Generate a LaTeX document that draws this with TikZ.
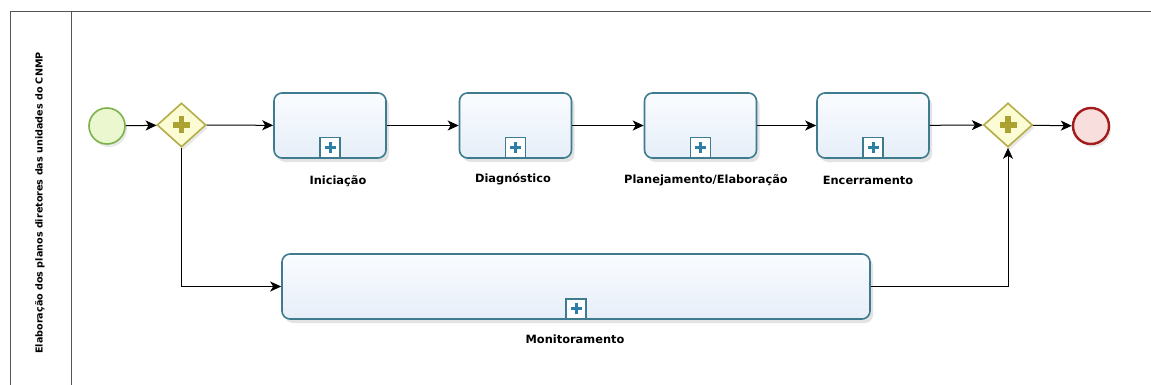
\documentclass[tikz,border=0pt]{standalone}
\usepackage{fontspec}
\setmainfont{DejaVu Sans}
\usetikzlibrary{arrows.meta,shadows,shapes.geometric}
\definecolor{taskline}{HTML}{3F7B8E}
\definecolor{tasktop}{HTML}{FAFCFF}
\definecolor{taskbot}{HTML}{E6EEF8}
\definecolor{gatefill}{HTML}{FBFBD4}
\definecolor{gateline}{HTML}{B5AE48}
\definecolor{gateplus}{HTML}{ABA232}
\definecolor{startfill}{HTML}{EBF7CF}
\definecolor{startline}{HTML}{7DB24A}
\definecolor{endfill}{HTML}{F9DEDE}
\definecolor{endline}{HTML}{A31B1B}
\definecolor{poolline}{HTML}{555555}
\definecolor{markplus}{HTML}{2E7FA6}
\tikzset{
  taskbox/.style={draw=taskline, line width=1.6pt, rounded corners=8pt, top color=tasktop, bottom color=taskbot,
    minimum width=112pt, minimum height=65pt, inner sep=0pt,
    drop shadow={shadow xshift=3pt, shadow yshift=-4pt, opacity=0.22, fill=gray}},
  markbox/.style={draw=taskline, line width=1.4pt, fill=white, minimum width=20pt, minimum height=20pt, inner sep=0pt},
  gate/.style={diamond, draw=gateline, line width=1.6pt, fill=gatefill, minimum width=49pt, minimum height=44pt, inner sep=0pt,
    drop shadow={shadow xshift=2pt, shadow yshift=-3pt, opacity=0.18, fill=gray}},
  startev/.style={circle, draw=startline, line width=1.6pt, fill=startfill, minimum size=36pt, inner sep=0pt,
    drop shadow={shadow xshift=2pt, shadow yshift=-3pt, opacity=0.18, fill=gray}},
  endev/.style={circle, draw=endline, line width=2.4pt, fill=endfill, minimum size=36pt, inner sep=0pt,
    drop shadow={shadow xshift=2pt, shadow yshift=-3pt, opacity=0.18, fill=gray}},
  flow/.style={draw=black, line width=1pt, -{Stealth[length=11pt,width=10pt,inset=3pt]}},
  lbl/.style={font=\bfseries\fontsize{11.4}{13}\selectfont, text=black, inner sep=0pt}
}
\newcommand{\gateplus}[1]{%
  \draw[gateplus, line width=5.5pt] ([xshift=-8.5pt]#1.center) -- ([xshift=8.5pt]#1.center);
  \draw[gateplus, line width=5.5pt] ([yshift=-8.5pt]#1.center) -- ([yshift=8.5pt]#1.center);}
\newcommand{\markplus}[1]{%
  \draw[markplus, line width=3pt] ([xshift=-5.5pt]#1.center) -- ([xshift=5.5pt]#1.center);
  \draw[markplus, line width=3pt] ([yshift=-5.5pt]#1.center) -- ([yshift=5.5pt]#1.center);}
\begin{document}
\begin{tikzpicture}[x=1pt,y=-1pt]
\useasboundingbox (0,0) rectangle (1151,385);
\fill[white] (0,0) rectangle (1151,385);
\begin{scope}
\clip (0,0) rectangle (1151,385);
\draw[poolline, line width=1pt] (10,400) -- (10,12) -- (1170,12);
\draw[poolline, line width=1pt] (71,12) -- (71,400);
\end{scope}
\node[rotate=90, font=\bfseries\fontsize{9.6}{11}\selectfont, inner sep=0pt] (lane) at (40,203) {Elaboração dos planos diretores das unidades do CNMP};

\node[startev] (s) at (107,126) {};
\node[gate] (g1) at (181.5,125) {};
\gateplus{g1}
\node[taskbox] (t1) at (330,125.5) {};
\node[taskbox] (t2) at (515.5,125.5) {};
\node[taskbox] (t3) at (700.5,125.5) {};
\node[taskbox] (t4) at (873,125.5) {};
\node[gate] (g2) at (1008,125) {};
\gateplus{g2}
\node[endev] (e) at (1091,126) {};
\node[taskbox, minimum width=588pt] (mon) at (576,286.5) {};

\foreach \t in {t1,t2,t3,t4,mon}{
  \node[markbox] (m\t) at ([yshift=11pt]\t.south) {};
  \markplus{m\t}
}

\node[lbl] (l1) at (338,181) {Iniciação};
\node[lbl] (l2) at (513,179) {Diagnóstico};
\node[lbl] (l3) at (706,180) {Planejamento/Elaboração};
\node[lbl] (l4) at (868,180) {Encerramento};
\node[lbl] (l5) at (575,339) {Monitoramento};

\draw[flow] (s) -- (g1);
\draw[flow] (g1) -- (t1);
\draw[flow] (t1) -- (t2);
\draw[flow] (t2) -- (t3);
\draw[flow] (t3) -- (t4);
\draw[flow] (t4) -- (g2);
\draw[flow] (g2) -- (e);
\draw[flow] (g1.south) |- (mon.west);
\draw[flow] (mon.east) -| (g2.south);
\end{tikzpicture}
\end{document}
